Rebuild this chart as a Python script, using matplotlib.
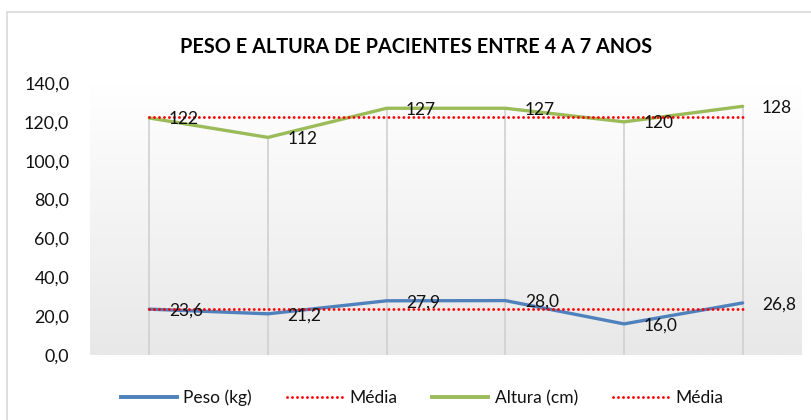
import matplotlib
matplotlib.use("Agg")
import matplotlib.pyplot as plt
import numpy as np
from matplotlib.patches import Rectangle
from matplotlib.lines import Line2D
from matplotlib.colors import LinearSegmentedColormap

title = "PESO E ALTURA DE PACIENTES ENTRE 4 A 7 ANOS"
categories = ["1", "2", "3", "4", "5", "6"]
peso = [23.6, 21.2, 27.9, 28.0, 16.0, 26.8]
altura = [122, 112, 127, 127, 120, 128]
media_peso = [23.9, 23.9, 23.9, 23.9, 23.9, 23.9]
media_altura = [122.7, 122.7, 122.7, 122.7, 122.7, 122.7]
peso_labels = ["23,6", "21,2", "27,9", "28,0", "16,0", "26,8"]
altura_labels = ["122", "112", "127", "127", "120", "128"]
yticks = [0, 20, 40, 60, 80, 100, 120, 140]

plt.rcParams['font.family'] = ['Lato', 'DejaVu Sans']

fig = plt.figure(figsize=(8.12, 4.2), dpi=100)
fig.patch.set_facecolor("white")
# outer chart border
fig.patches.append(Rectangle((7/812, -0.05), 1.2, 1 - 12/420 + 0.05,
                             transform=fig.transFigure, fill=False,
                             edgecolor="#d9d9d9", linewidth=1.2))

ax = fig.add_axes([90/812, 1 - 355/420, 712/812, 272/420])
x = np.arange(len(categories))
ax.set_xlim(-0.5, len(categories) - 0.5)
ax.set_ylim(0, 140)

# gradient background (white top -> light gray bottom)
cmap = LinearSegmentedColormap.from_list("g", ["#ffffff", "#e8e8e8"])
ax.imshow(np.linspace(0, 1, 256).reshape(-1, 1),
          extent=[-0.5, len(categories) - 0.5, 0, 140], aspect="auto",
          cmap=cmap, origin="upper", zorder=0, vmin=0, vmax=1)

# drop lines
tops = [max(a, p) for a, p in zip(altura, peso)]
ax.vlines(x, 0, tops, color="#d0d0d0", linewidth=1.2, zorder=1)

dot = (0, (0.01, 1.7))
ax.plot(x, peso, color="#4f81bd", linewidth=2.4, zorder=3, solid_capstyle="round")
ax.plot(x, media_peso, color="#ff0000", linewidth=2.1, linestyle=dot,
        dash_capstyle="round", zorder=4)
ax.plot(x, altura, color="#9bbb59", linewidth=2.4, zorder=3, solid_capstyle="round")
ax.plot(x, media_altura, color="#ff0000", linewidth=2.1, linestyle=dot,
        dash_capstyle="round", zorder=4)

for xi, v, lab in zip(x, peso, peso_labels):
    ax.annotate(lab, (xi, v), xytext=(14, -1), textcoords="offset points",
                ha="left", va="center", fontsize=12.5, color="#111111", zorder=5)
for xi, v, lab in zip(x, altura, altura_labels):
    ax.annotate(lab, (xi, v), xytext=(14, -1), textcoords="offset points",
                ha="left", va="center", fontsize=12.5, color="#111111", zorder=5)

ax.set_yticks(yticks)
ax.set_yticklabels([f"{t:.1f}".replace(".", ",") for t in yticks],
                   fontsize=12.8, color="#111111")
ax.set_xticks([])
ax.tick_params(axis="y", length=0, pad=15)
for s in ax.spines.values():
    s.set_visible(False)

fig.text(0.513, 1 - 47/420, title, ha="center", va="center",
         fontsize=14.3, fontweight="bold", color="#000000")

handles = [
    Line2D([], [], color="#4f81bd", linewidth=2.8),
    Line2D([], [], color="#ff0000", linewidth=2.1, linestyle=dot, dash_capstyle="round"),
    Line2D([], [], color="#9bbb59", linewidth=2.8),
    Line2D([], [], color="#ff0000", linewidth=2.1, linestyle=dot, dash_capstyle="round"),
]
labels = ["Peso (kg)", "Média", "Altura (cm)", "Média"]
fig.legend(handles, labels, loc="center", bbox_to_anchor=(422/812, 1 - 398/420),
           ncol=4, frameon=False, fontsize=12.5, handlelength=3.2,
           handletextpad=0.4, columnspacing=2.0, labelcolor="#111111")

fig.savefig("out.png", dpi=100, facecolor="white")
